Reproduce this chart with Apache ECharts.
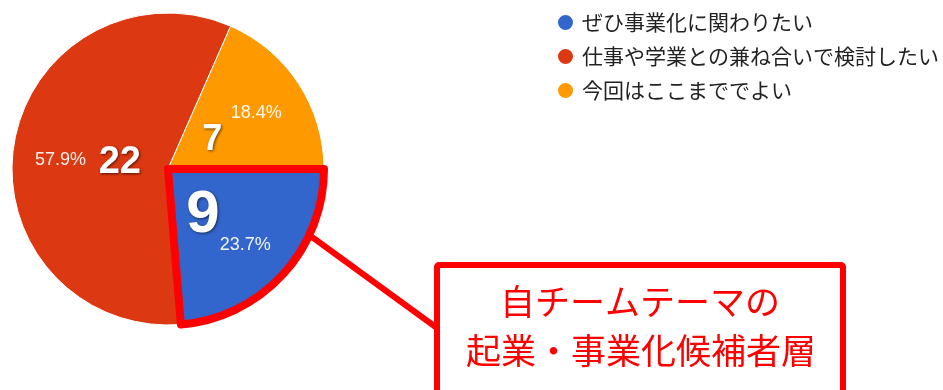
<!DOCTYPE html>
<html><head><meta charset="utf-8">
<script src="https://cdn.jsdelivr.net/npm/echarts@6/dist/echarts.min.js"></script>
<style>html,body{margin:0;padding:0;background:#fff}#c{width:943px;height:390px}</style>
</head><body><div id="c"></div>
<script>
const categories = ['ぜひ事業化に関わりたい', '仕事や学業との兼ね合いで検討したい', '今回はここまででよい'];
const counts = [9, 22, 7];
const colors = ['#3366cc', '#dc3912', '#ff9900'];
const highlightIndex = 0;
const calloutLines = ['自チームテーマの', '起業・事業化候補者層'];

const total = counts.reduce((a, b) => a + b, 0);
const pct = v => (v / total * 100).toFixed(1) + '%';
const center = [168, 169];
const R = 156;
const countSizes = [60, 38, 36];
const countOffsets = [[-4, 11], [4, 2], [0, 0]];
const pctOffsets = [[-3, 2], [0, 9], [-3, 4]];

const baseData = categories.map((n, i) => ({
  name: n, value: counts[i],
  itemStyle: { color: colors[i], borderColor: '#fff', borderWidth: 1 }
}));

const chart = echarts.init(document.getElementById('c'));
chart.setOption({
  animation: false,
  legend: {
    orient: 'vertical', left: 556, top: 11, padding: 0,
    icon: 'circle', itemWidth: 17, itemHeight: 17, itemGap: 11,
    data: categories,
    textStyle: { fontSize: 21, lineHeight: 23, color: '#222', fontFamily: 'Noto Sans CJK JP', padding: [0, 0, 0, 3] }
  },
  series: [
    {
      type: 'pie', center: center, radius: R, startAngle: 0, clockwise: true,
      data: baseData, label: { show: false }, labelLine: { show: false }, silent: true
    },
    {
      type: 'pie', center: center, radius: [R * 0.36, R], startAngle: 0, clockwise: true, silent: true,
      data: categories.map((n, i) => ({ name: n, value: counts[i], itemStyle: { color: 'rgba(0,0,0,0)' },
        label: { offset: pctOffsets[i] } })),
      label: { show: true, position: 'inside', formatter: p => pct(p.value),
        color: 'rgba(255,255,255,0.92)', fontSize: 18, fontFamily: 'Liberation Sans, Arial' },
      labelLine: { show: false }
    },
    {
      type: 'pie', center: center, radius: [0, R * 0.64], startAngle: 0, clockwise: true, silent: true, z: 5,
      data: categories.map((n, i) => ({ name: n, value: counts[i],
        itemStyle: { color: 'rgba(0,0,0,0)', borderWidth: 0 },
        label: { fontSize: countSizes[i], offset: countOffsets[i] } })),
      label: { show: true, position: 'inside', formatter: '{c}', color: '#fff', fontWeight: 'bold',
        fontFamily: 'Liberation Sans, Arial', textShadowColor: 'rgba(0,0,0,0.6)', textShadowBlur: 3,
        textShadowOffsetX: 1, textShadowOffsetY: 1 },
      labelLine: { show: false }
    },
    {
      type: 'pie', center: center, radius: R, startAngle: 0, clockwise: true, silent: true, z: 4,
      data: categories.map((n, i) => ({ name: n, value: counts[i],
        itemStyle: i === highlightIndex
          ? { color: 'rgba(0,0,0,0)', borderColor: '#ff0000', borderWidth: 8, borderJoin: 'round' }
          : { color: 'rgba(0,0,0,0)', borderWidth: 0 } })),
      label: { show: false }, labelLine: { show: false }
    }
  ],
  graphic: [
    { type: 'line', shape: { x1: 312, y1: 237, x2: 437, y2: 328 }, style: { stroke: '#ff0000', lineWidth: 6 }, z: 10 },
    { type: 'rect', shape: { x: 437, y: 265, width: 406, height: 140, r: 2 },
      style: { fill: '#fff', stroke: '#ff0000', lineWidth: 6 }, z: 10 },
    { type: 'text', x: 640, y: 302, z: 11,
      style: { text: calloutLines[0], fill: '#ff0000', font: '35px "Noto Sans CJK JP"', align: 'center', verticalAlign: 'middle' } },
    { type: 'text', x: 641, y: 351, z: 11,
      style: { text: calloutLines[1], fill: '#ff0000', font: '35px "Noto Sans CJK JP"', align: 'center', verticalAlign: 'middle' } }
  ]
});
</script></body></html>
